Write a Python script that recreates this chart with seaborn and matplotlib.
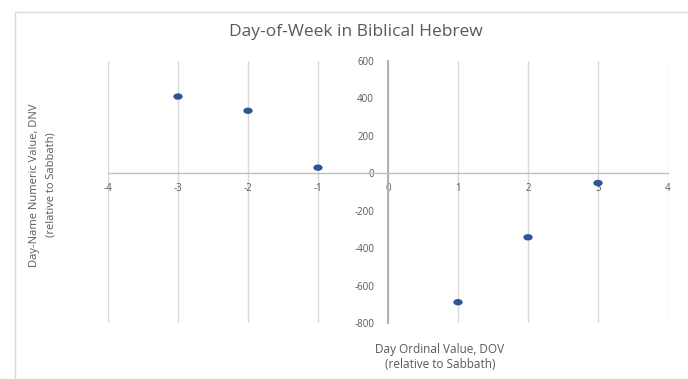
import matplotlib
matplotlib.use("Agg")
import matplotlib.pyplot as plt
import seaborn as sns
import pandas as pd
from matplotlib.patches import Rectangle
from matplotlib.path import Path
from matplotlib.transforms import Affine2D

# Data
dov = [-3, -2, -1, 1, 2, 3]
dnv = [410, 334, 30, -689, -342, -52]
x_ticks = [-4, -3, -2, -1, 0, 1, 2, 3, 4]
y_ticks = [-800, -600, -400, -200, 0, 200, 400, 600]

sns.set_theme(style="white")
plt.rcParams['font.family'] = ['Open Sans', 'DejaVu Sans']

df = pd.DataFrame({"DOV": dov, "DNV": dnv})

fig = plt.figure(figsize=(6.88, 3.79), dpi=100)
ax = fig.add_axes([108/688, 1-323/379, (668-108)/688, (323-61)/379])

grid_c = "#d9d9d9"
text_c = "#595959"

for xv in x_ticks:
    ax.axvline(xv, color=grid_c, lw=1.0, zorder=0)

ellipse = Path.unit_circle().transformed(Affine2D().scale(1.45, 1.0))
sns.scatterplot(data=df, x="DOV", y="DNV", ax=ax, color="#2F5597",
                s=45, marker=ellipse, edgecolor="none", zorder=3)

ax.set_xlim(-4, 4)
ax.set_ylim(-800, 600)
ax.set_xticks(x_ticks)
ax.set_yticks(y_ticks)
ax.set_xticklabels([str(v) for v in x_ticks])
ax.set_yticklabels([str(v) for v in y_ticks])
ax.spines['left'].set_position(('data', 0))
ax.spines['bottom'].set_position(('data', 0))
ax.spines['left'].set_color("#b0b0b0")
ax.spines['bottom'].set_color("#bfbfbf")
ax.spines['left'].set_linewidth(1.4)
ax.spines['bottom'].set_linewidth(1.0)
ax.spines['top'].set_visible(False)
ax.spines['right'].set_visible(False)
ax.tick_params(axis='both', length=0, labelsize=7, labelcolor=text_c)
ax.tick_params(axis='x', pad=7)
ax.tick_params(axis='y', pad=10)
ax.set_xlabel("")
ax.set_ylabel("")
ax.patch.set_alpha(0)

fig.text(356/688, 1-32/379, "Day-of-Week in Biblical Hebrew", ha="center", va="center",
         fontsize=12.5, color=text_c)
fig.text(440/688, 1-357/379, "Day Ordinal Value, DOV\n(relative to Sabbath)", ha="center",
         va="center", fontsize=8.5, color=text_c, linespacing=1.1)
fig.text(43/688, 1-185/379, "Day-Name Numeric Value, DNV\n(relative to Sabbath)", ha="center",
         va="center", rotation=90, fontsize=8, color=text_c, linespacing=1.7)

fig.patches.append(Rectangle((15/688, -0.05), 1.0, 1 - 12/379 + 0.05,
                             transform=fig.transFigure, fill=False,
                             edgecolor="#d9d9d9", lw=1.0))

fig.savefig("out.png", dpi=100)
